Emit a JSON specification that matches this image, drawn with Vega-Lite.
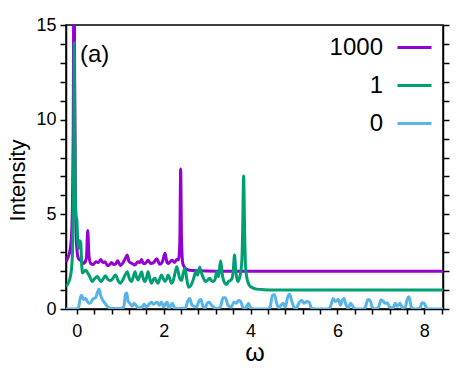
{
 "$schema": "https://vega.github.io/schema/vega-lite/v6.json",
 "width": 377, "height": 284,
 "autosize": {"type": "none"},
 "padding": {"left": 66, "top": 25, "right": 15, "bottom": 65},
 "background": "white",
 "config": {
  "view": {"stroke": "black", "strokeWidth": 1.5},
  "font": "Liberation Sans",
  "axis": {"domainColor": "black", "domainWidth": 1.5, "tickColor": "black", "tickWidth": 1.5, "labelFont": "Liberation Sans", "labelFontSize": 18, "labelColor": "black", "titleFont": "Liberation Sans", "titleColor": "black", "titleFontWeight": "normal", "grid": false, "labelOverlap": false},
  "legend": {"orient": "none", "legendX": 330, "legendY": 4, "symbolType": "stroke", "symbolSize": 1156, "symbolStrokeWidth": 3, "labelFontSize": 24, "labelAlign": "right", "labelOffset": -50, "rowPadding": 7, "padding": 0, "labelFont": "Liberation Sans", "labelColor": "black"}
 },
 "datasets": {
  "pts": [
   {"w":-0.25,"I":2.5,"s":"1000"},{"w":-0.2,"I":2.75,"s":"1000"},{"w":-0.15,"I":3.2,"s":"1000"},{"w":-0.12,"I":4.0,"s":"1000"},{"w":-0.1,"I":5.8,"s":"1000"},{"w":-0.085,"I":9,"s":"1000"},{"w":-0.065,"I":20,"s":"1000"},{"w":-0.05,"I":12,"s":"1000"},{"w":-0.035,"I":6.5,"s":"1000"},{"w":-0.015,"I":3.8,"s":"1000"},{"w":0.0,"I":3.2,"s":"1000"},{"w":0.03,"I":2.7,"s":"1000"},{"w":0.06,"I":2.6,"s":"1000"},{"w":0.1,"I":2.55,"s":"1000"},{"w":0.14,"I":2.4,"s":"1000"},{"w":0.18,"I":2.45,"s":"1000"},{"w":0.22,"I":2.7,"s":"1000"},{"w":0.25,"I":4.15,"s":"1000"},{"w":0.28,"I":2.8,"s":"1000"},{"w":0.32,"I":2.4,"s":"1000"},{"w":0.38,"I":2.35,"s":"1000"},{"w":0.44,"I":2.5,"s":"1000"},{"w":0.5,"I":2.45,"s":"1000"},{"w":0.55,"I":2.62,"s":"1000"},{"w":0.6,"I":2.45,"s":"1000"},{"w":0.65,"I":2.5,"s":"1000"},{"w":0.7,"I":2.3,"s":"1000"},{"w":0.74,"I":2.32,"s":"1000"},{"w":0.8,"I":2.45,"s":"1000"},{"w":0.85,"I":2.35,"s":"1000"},{"w":0.9,"I":2.4,"s":"1000"},{"w":0.94,"I":2.55,"s":"1000"},{"w":1.0,"I":2.3,"s":"1000"},{"w":1.05,"I":2.4,"s":"1000"},{"w":1.1,"I":2.6,"s":"1000"},{"w":1.16,"I":2.85,"s":"1000"},{"w":1.2,"I":2.5,"s":"1000"},{"w":1.27,"I":2.4,"s":"1000"},{"w":1.34,"I":2.32,"s":"1000"},{"w":1.4,"I":2.5,"s":"1000"},{"w":1.45,"I":2.45,"s":"1000"},{"w":1.49,"I":2.62,"s":"1000"},{"w":1.53,"I":2.4,"s":"1000"},{"w":1.57,"I":2.4,"s":"1000"},{"w":1.64,"I":2.57,"s":"1000"},{"w":1.7,"I":2.4,"s":"1000"},{"w":1.76,"I":2.43,"s":"1000"},{"w":1.84,"I":2.66,"s":"1000"},{"w":1.91,"I":2.36,"s":"1000"},{"w":1.97,"I":2.5,"s":"1000"},{"w":2.03,"I":2.94,"s":"1000"},{"w":2.07,"I":2.5,"s":"1000"},{"w":2.1,"I":2.4,"s":"1000"},{"w":2.15,"I":2.5,"s":"1000"},{"w":2.2,"I":2.57,"s":"1000"},{"w":2.25,"I":2.45,"s":"1000"},{"w":2.3,"I":2.62,"s":"1000"},{"w":2.34,"I":2.6,"s":"1000"},{"w":2.37,"I":3.5,"s":"1000"},{"w":2.39,"I":7.4,"s":"1000"},{"w":2.41,"I":3.6,"s":"1000"},{"w":2.44,"I":2.4,"s":"1000"},{"w":2.48,"I":2.2,"s":"1000"},{"w":2.53,"I":2.1,"s":"1000"},{"w":2.6,"I":2.05,"s":"1000"},{"w":2.8,"I":2.02,"s":"1000"},{"w":3.2,"I":2.0,"s":"1000"},{"w":8.45,"I":2.0,"s":"1000"},
   {"w":-0.25,"I":1.2,"s":"1"},{"w":-0.2,"I":1.35,"s":"1"},{"w":-0.15,"I":1.7,"s":"1"},{"w":-0.12,"I":2.2,"s":"1"},{"w":-0.1,"I":3.0,"s":"1"},{"w":-0.085,"I":5,"s":"1"},{"w":-0.07,"I":9,"s":"1"},{"w":-0.06,"I":14.05,"s":"1"},{"w":-0.05,"I":10,"s":"1"},{"w":-0.035,"I":6,"s":"1"},{"w":-0.02,"I":4.9,"s":"1"},{"w":0.0,"I":4.7,"s":"1"},{"w":0.02,"I":3.6,"s":"1"},{"w":0.04,"I":3.2,"s":"1"},{"w":0.07,"I":3.6,"s":"1"},{"w":0.09,"I":3.5,"s":"1"},{"w":0.11,"I":2.4,"s":"1"},{"w":0.13,"I":1.9,"s":"1"},{"w":0.17,"I":2.0,"s":"1"},{"w":0.21,"I":2.05,"s":"1"},{"w":0.25,"I":1.9,"s":"1"},{"w":0.3,"I":1.7,"s":"1"},{"w":0.35,"I":1.45,"s":"1"},{"w":0.41,"I":1.6,"s":"1"},{"w":0.47,"I":1.71,"s":"1"},{"w":0.52,"I":1.55,"s":"1"},{"w":0.56,"I":1.45,"s":"1"},{"w":0.61,"I":1.6,"s":"1"},{"w":0.66,"I":1.75,"s":"1"},{"w":0.72,"I":1.55,"s":"1"},{"w":0.78,"I":1.5,"s":"1"},{"w":0.84,"I":1.65,"s":"1"},{"w":0.89,"I":1.8,"s":"1"},{"w":0.95,"I":1.5,"s":"1"},{"w":1.0,"I":1.36,"s":"1"},{"w":1.05,"I":1.5,"s":"1"},{"w":1.1,"I":1.75,"s":"1"},{"w":1.16,"I":1.97,"s":"1"},{"w":1.21,"I":1.6,"s":"1"},{"w":1.26,"I":1.45,"s":"1"},{"w":1.3,"I":1.7,"s":"1"},{"w":1.34,"I":1.97,"s":"1"},{"w":1.38,"I":1.65,"s":"1"},{"w":1.41,"I":1.53,"s":"1"},{"w":1.45,"I":1.75,"s":"1"},{"w":1.49,"I":1.97,"s":"1"},{"w":1.53,"I":1.6,"s":"1"},{"w":1.57,"I":1.45,"s":"1"},{"w":1.61,"I":1.7,"s":"1"},{"w":1.64,"I":1.97,"s":"1"},{"w":1.68,"I":1.6,"s":"1"},{"w":1.72,"I":1.36,"s":"1"},{"w":1.76,"I":1.55,"s":"1"},{"w":1.8,"I":1.62,"s":"1"},{"w":1.84,"I":1.45,"s":"1"},{"w":1.87,"I":1.36,"s":"1"},{"w":1.91,"I":1.6,"s":"1"},{"w":1.95,"I":1.8,"s":"1"},{"w":1.99,"I":1.6,"s":"1"},{"w":2.03,"I":1.45,"s":"1"},{"w":2.07,"I":1.6,"s":"1"},{"w":2.1,"I":1.8,"s":"1"},{"w":2.14,"I":1.6,"s":"1"},{"w":2.18,"I":1.36,"s":"1"},{"w":2.22,"I":1.5,"s":"1"},{"w":2.26,"I":1.9,"s":"1"},{"w":2.3,"I":2.23,"s":"1"},{"w":2.34,"I":1.9,"s":"1"},{"w":2.37,"I":1.6,"s":"1"},{"w":2.41,"I":1.5,"s":"1"},{"w":2.45,"I":1.9,"s":"1"},{"w":2.49,"I":2.15,"s":"1"},{"w":2.53,"I":1.6,"s":"1"},{"w":2.57,"I":1.15,"s":"1"},{"w":2.61,"I":1.2,"s":"1"},{"w":2.65,"I":1.36,"s":"1"},{"w":2.7,"I":1.7,"s":"1"},{"w":2.74,"I":2.0,"s":"1"},{"w":2.78,"I":1.8,"s":"1"},{"w":2.83,"I":2.2,"s":"1"},{"w":2.87,"I":1.9,"s":"1"},{"w":2.92,"I":1.6,"s":"1"},{"w":2.96,"I":1.45,"s":"1"},{"w":3.0,"I":1.5,"s":"1"},{"w":3.06,"I":1.62,"s":"1"},{"w":3.1,"I":1.5,"s":"1"},{"w":3.14,"I":1.45,"s":"1"},{"w":3.18,"I":1.55,"s":"1"},{"w":3.22,"I":1.97,"s":"1"},{"w":3.26,"I":1.7,"s":"1"},{"w":3.31,"I":2.55,"s":"1"},{"w":3.35,"I":1.8,"s":"1"},{"w":3.38,"I":1.5,"s":"1"},{"w":3.41,"I":1.36,"s":"1"},{"w":3.45,"I":1.3,"s":"1"},{"w":3.49,"I":1.45,"s":"1"},{"w":3.53,"I":1.5,"s":"1"},{"w":3.57,"I":1.6,"s":"1"},{"w":3.6,"I":2.0,"s":"1"},{"w":3.63,"I":2.85,"s":"1"},{"w":3.66,"I":2.0,"s":"1"},{"w":3.7,"I":1.45,"s":"1"},{"w":3.74,"I":1.6,"s":"1"},{"w":3.77,"I":1.9,"s":"1"},{"w":3.8,"I":2.6,"s":"1"},{"w":3.82,"I":4.5,"s":"1"},{"w":3.84,"I":7.03,"s":"1"},{"w":3.86,"I":4.5,"s":"1"},{"w":3.88,"I":2.4,"s":"1"},{"w":3.91,"I":1.7,"s":"1"},{"w":3.95,"I":1.35,"s":"1"},{"w":3.99,"I":1.2,"s":"1"},{"w":4.05,"I":1.12,"s":"1"},{"w":4.14,"I":1.05,"s":"1"},{"w":4.3,"I":1.02,"s":"1"},{"w":4.6,"I":1.0,"s":"1"},{"w":8.45,"I":1.0,"s":"1"},
   {"w":-0.25,"I":0,"s":"0"},{"w":0.0,"I":0,"s":"0"},{"w":0.04,"I":0.1,"s":"0"},{"w":0.08,"I":0.6,"s":"0"},{"w":0.11,"I":0.72,"s":"0"},{"w":0.15,"I":0.5,"s":"0"},{"w":0.2,"I":0.55,"s":"0"},{"w":0.24,"I":0.4,"s":"0"},{"w":0.28,"I":0.3,"s":"0"},{"w":0.32,"I":0.35,"s":"0"},{"w":0.38,"I":0.55,"s":"0"},{"w":0.43,"I":0.6,"s":"0"},{"w":0.47,"I":0.85,"s":"0"},{"w":0.51,"I":1.05,"s":"0"},{"w":0.55,"I":0.7,"s":"0"},{"w":0.6,"I":0.45,"s":"0"},{"w":0.65,"I":0.3,"s":"0"},{"w":0.7,"I":0.15,"s":"0"},{"w":0.75,"I":0.05,"s":"0"},{"w":0.85,"I":0.02,"s":"0"},{"w":1.0,"I":0.02,"s":"0"},{"w":1.08,"I":0.1,"s":"0"},{"w":1.12,"I":0.8,"s":"0"},{"w":1.15,"I":0.85,"s":"0"},{"w":1.18,"I":0.4,"s":"0"},{"w":1.22,"I":0.3,"s":"0"},{"w":1.27,"I":0.15,"s":"0"},{"w":1.32,"I":0.3,"s":"0"},{"w":1.36,"I":0.2,"s":"0"},{"w":1.42,"I":0.05,"s":"0"},{"w":1.5,"I":0.1,"s":"0"},{"w":1.55,"I":0.25,"s":"0"},{"w":1.6,"I":0.1,"s":"0"},{"w":1.68,"I":0.3,"s":"0"},{"w":1.72,"I":0.35,"s":"0"},{"w":1.76,"I":0.25,"s":"0"},{"w":1.8,"I":0.3,"s":"0"},{"w":1.85,"I":0.35,"s":"0"},{"w":1.9,"I":0.2,"s":"0"},{"w":1.95,"I":0.35,"s":"0"},{"w":2.0,"I":0.1,"s":"0"},{"w":2.05,"I":0.3,"s":"0"},{"w":2.08,"I":0.35,"s":"0"},{"w":2.12,"I":0.05,"s":"0"},{"w":2.2,"I":0.3,"s":"0"},{"w":2.25,"I":0.05,"s":"0"},{"w":2.35,"I":0.02,"s":"0"},{"w":2.5,"I":0.05,"s":"0"},{"w":2.55,"I":0.4,"s":"0"},{"w":2.6,"I":0.55,"s":"0"},{"w":2.65,"I":0.2,"s":"0"},{"w":2.7,"I":0.15,"s":"0"},{"w":2.75,"I":0.1,"s":"0"},{"w":2.82,"I":0.45,"s":"0"},{"w":2.86,"I":0.5,"s":"0"},{"w":2.9,"I":0.15,"s":"0"},{"w":2.95,"I":0.05,"s":"0"},{"w":3.0,"I":0.3,"s":"0"},{"w":3.05,"I":0.35,"s":"0"},{"w":3.1,"I":0.2,"s":"0"},{"w":3.15,"I":0.1,"s":"0"},{"w":3.2,"I":0.02,"s":"0"},{"w":3.3,"I":0.1,"s":"0"},{"w":3.37,"I":0.6,"s":"0"},{"w":3.42,"I":0.6,"s":"0"},{"w":3.48,"I":0.2,"s":"0"},{"w":3.55,"I":0.1,"s":"0"},{"w":3.62,"I":0.35,"s":"0"},{"w":3.67,"I":0.3,"s":"0"},{"w":3.72,"I":0.45,"s":"0"},{"w":3.77,"I":0.4,"s":"0"},{"w":3.82,"I":0.1,"s":"0"},{"w":3.88,"I":0.02,"s":"0"},{"w":3.95,"I":0.3,"s":"0"},{"w":4.0,"I":0.05,"s":"0"},{"w":4.1,"I":0.0,"s":"0"},{"w":4.4,"I":0.0,"s":"0"},{"w":4.45,"I":0.1,"s":"0"},{"w":4.5,"I":0.7,"s":"0"},{"w":4.55,"I":0.75,"s":"0"},{"w":4.6,"I":0.3,"s":"0"},{"w":4.65,"I":0.05,"s":"0"},{"w":4.7,"I":0.2,"s":"0"},{"w":4.75,"I":0.3,"s":"0"},{"w":4.8,"I":0.1,"s":"0"},{"w":4.85,"I":0.6,"s":"0"},{"w":4.9,"I":0.78,"s":"0"},{"w":4.95,"I":0.4,"s":"0"},{"w":5.0,"I":0.1,"s":"0"},{"w":5.05,"I":0.02,"s":"0"},{"w":5.12,"I":0.35,"s":"0"},{"w":5.18,"I":0.45,"s":"0"},{"w":5.23,"I":0.3,"s":"0"},{"w":5.3,"I":0.4,"s":"0"},{"w":5.35,"I":0.35,"s":"0"},{"w":5.4,"I":0.05,"s":"0"},{"w":5.5,"I":0.0,"s":"0"},{"w":5.8,"I":0.0,"s":"0"},{"w":5.85,"I":0.2,"s":"0"},{"w":5.9,"I":0.55,"s":"0"},{"w":5.95,"I":0.4,"s":"0"},{"w":6.02,"I":0.5,"s":"0"},{"w":6.07,"I":0.2,"s":"0"},{"w":6.11,"I":0.45,"s":"0"},{"w":6.15,"I":0.56,"s":"0"},{"w":6.2,"I":0.2,"s":"0"},{"w":6.25,"I":0.05,"s":"0"},{"w":6.3,"I":0.3,"s":"0"},{"w":6.34,"I":0.2,"s":"0"},{"w":6.4,"I":0.0,"s":"0"},{"w":6.6,"I":0.0,"s":"0"},{"w":6.65,"I":0.15,"s":"0"},{"w":6.7,"I":0.5,"s":"0"},{"w":6.75,"I":0.45,"s":"0"},{"w":6.8,"I":0.1,"s":"0"},{"w":6.87,"I":0.0,"s":"0"},{"w":6.95,"I":0.1,"s":"0"},{"w":7.0,"I":0.48,"s":"0"},{"w":7.05,"I":0.42,"s":"0"},{"w":7.1,"I":0.3,"s":"0"},{"w":7.15,"I":0.32,"s":"0"},{"w":7.2,"I":0.1,"s":"0"},{"w":7.28,"I":0.05,"s":"0"},{"w":7.33,"I":0.3,"s":"0"},{"w":7.38,"I":0.15,"s":"0"},{"w":7.44,"I":0.3,"s":"0"},{"w":7.5,"I":0.05,"s":"0"},{"w":7.56,"I":0.1,"s":"0"},{"w":7.61,"I":0.55,"s":"0"},{"w":7.65,"I":0.65,"s":"0"},{"w":7.7,"I":0.1,"s":"0"},{"w":7.8,"I":0.0,"s":"0"},{"w":7.9,"I":0.05,"s":"0"},{"w":7.95,"I":0.33,"s":"0"},{"w":8.0,"I":0.3,"s":"0"},{"w":8.05,"I":0.05,"s":"0"},{"w":8.1,"I":0.0,"s":"0"},{"w":8.45,"I":0.0,"s":"0"}
  ],
  "note": [{"label": "(a)"}]
 },
 "data": {"name": "pts"},
 "resolve": {"axis": {"x": "independent", "y": "independent"}},
 "layer": [
  {
   "mark": {"type": "line", "strokeWidth": 3, "clip": true, "interpolate": "monotone"},
   "encoding": {
    "x": {"field": "w", "type": "quantitative", "scale": {"domain": [-0.25, 8.43], "nice": false, "zero": false},
      "axis": {"values": [0,0.4,0.8,1.2,1.6,2,2.4,2.8,3.2,3.6,4,4.4,4.8,5.2,5.6,6,6.4,6.8,7.2,7.6,8,8.4], "labelExpr": "datum.value % 2 === 0 ? format(datum.value, 'd') : ''", "tickSize": 5, "labelPadding": 8, "title": "ω", "titleFontSize": 25, "titleBaseline": "alphabetic", "titleY": 51}},
    "y": {"field": "I", "type": "quantitative", "scale": {"domain": [0, 15], "nice": false, "zero": true},
      "axis": {"values": [0,1,2,3,4,5,6,7,8,9,10,11,12,13,14,15], "labelExpr": "datum.value % 5 === 0 ? datum.label : ''", "tickSize": 6, "labelPadding": 4, "title": "Intensity", "titleFontSize": 22, "titleAngle": 270, "titleAlign": "center", "titleBaseline": "middle", "titleX": -49, "titleY": 155}},
    "color": {"field": "s", "type": "nominal", "scale": {"domain": ["1000", "1", "0"], "range": ["#9400d3", "#009e73", "#56b4e9"]}, "legend": {"title": null}}
   }
  },
  {
   "mark": {"type": "point", "opacity": 0},
   "encoding": {
    "x": {"field": "w", "type": "quantitative", "axis": null},
    "y": {"field": "I", "type": "quantitative", "axis": {"orient": "right", "values": [0,1,2,3,4,5,6,7,8,9,10,11,12,13,14,15], "labels": false, "tickSize": 6, "title": null}}
   }
  },
  {
   "data": {"name": "note"},
   "mark": {"type": "text", "align": "left", "baseline": "alphabetic", "fontSize": 24, "font": "Liberation Sans", "color": "black"},
   "encoding": {
    "x": {"datum": 0.07, "type": "quantitative", "axis": null},
    "y": {"datum": 13.05, "type": "quantitative", "axis": null},
    "text": {"field": "label"}
   }
  }
 ]
}
